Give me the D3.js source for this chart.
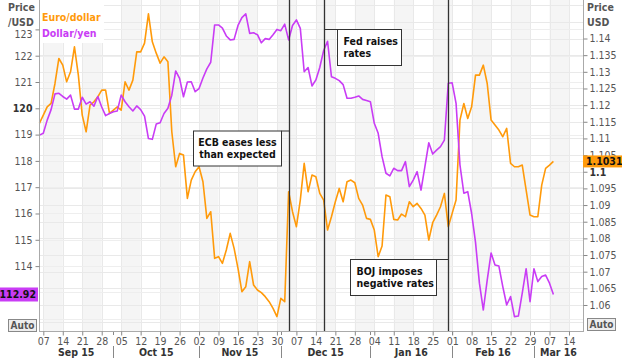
<!DOCTYPE html>
<html><head><meta charset="utf-8">
<script src="https://cdn.jsdelivr.net/npm/d3@7"></script>
<style>body{margin:0;background:#fff}svg{display:block}</style>
</head><body><svg id="c" width="622" height="358"></svg>
<script>
// ---- data ----
const startDate = "2015-09-04"; // first trading day shown; x axis counts weekdays
const axisEndDate = "2016-03-18";
const seriesNames = ["Euro/dollar", "Dollar/yen"];
const yenValues = [118.98,119.05,119.55,119.95,120.55,120.57,120.45,120.35,120.5,119.97,119.97,120.42,120.16,120.25,120.08,120.45,120.05,119.72,119.8,119.87,119.9,120.5,120.25,120.06,119.9,120.09,119.95,119.7,118.85,118.82,119.4,119.45,119.8,120.0,120.5,121.42,121.14,120.44,121.0,121.01,120.63,120.75,121.15,121.5,121.75,123.17,123.17,123.05,122.75,122.6,122.62,123.15,123.45,123.59,122.85,122.87,122.8,122.49,122.65,122.62,122.8,123.0,122.95,123.2,122.6,123.15,123.36,123.04,121.39,121.55,120.85,121.08,121.55,122.2,122.55,121.2,121.14,121.05,120.9,120.38,120.38,120.42,120.47,120.34,120.3,120.25,119.43,119.05,118.16,117.53,117.43,117.72,117.63,117.63,117.97,117.02,117.27,117.59,116.89,117.78,118.69,118.26,118.41,118.54,118.79,120.95,120.97,120.19,117.85,116.77,116.83,116.0,114.9,113.35,112.33,113.47,114.5,114.04,114.0,113.22,112.52,112.84,112.08,112.1,112.97,113.9,112.65,113.9,113.41,113.6,113.66,113.35,112.92];
const euroValues = [1.1145,1.1170,1.1195,1.1205,1.1265,1.1340,1.1320,1.1270,1.1300,1.1375,1.1290,1.1170,1.1120,1.1200,1.1210,1.1225,1.1245,1.1245,1.1175,1.1185,1.1195,1.1185,1.1270,1.1245,1.1275,1.1360,1.1360,1.1386,1.1474,1.1390,1.1356,1.1326,1.1345,1.1330,1.1120,1.1015,1.1055,1.1050,1.0920,1.0975,1.1000,1.1015,1.0970,1.0860,1.0880,1.0740,1.0745,1.0725,1.0765,1.0815,1.0770,1.0710,1.0640,1.0655,1.0730,1.0660,1.0645,1.0637,1.0625,1.0610,1.0590,1.0565,1.0620,1.0610,1.0940,1.0880,1.0835,1.0915,1.1025,1.0940,1.0990,1.0985,1.0935,1.0915,1.0825,1.0865,1.0910,1.0950,1.0910,1.0970,1.0975,1.0967,1.0920,1.0900,1.0860,1.0857,1.0825,1.0745,1.0777,1.0930,1.0925,1.0857,1.0855,1.0873,1.0865,1.0910,1.0895,1.0905,1.0890,1.0870,1.0795,1.0847,1.0870,1.0895,1.0935,1.0835,1.0875,1.0915,1.1155,1.1205,1.1160,1.1195,1.1290,1.1290,1.1320,1.1265,1.1155,1.1140,1.1125,1.1105,1.1130,1.1025,1.1015,1.1015,1.1020,1.0945,1.0870,1.0865,1.0865,1.0960,1.1010,1.1020,1.1031];
const leftTicks = [114,115,116,117,118,119,120,121,122,123];
const rightTicks = [1.06,1.065,1.07,1.075,1.08,1.085,1.09,1.095,1.1,1.105,1.11,1.115,1.12,1.125,1.13,1.135,1.14];
const monthLabels = ["Sep 15","Oct 15","Nov 15","Dec 15","Jan 16","Feb 16","Mar 16"];
const eventDates = ["2015-12-03","2015-12-16","2016-01-29"];
const eventTexts = [["ECB eases less","than expected"],["Fed raises","rates"],["BOJ imposes","negative rates"]];
const lastYen = "112.92", lastEuro = "1.1031";

// ---- trading-day calendar ----
const parse = d3.utcParse("%Y-%m-%d");
const days = d3.utcDays(parse(startDate), d3.utcDay.offset(parse(axisEndDate),1)).filter(d => d.getUTCDay() > 0 && d.getUTCDay() < 6);
const idxOf = d => days.findIndex(x => +x === +d);

const ORANGE = "#ff9a0a", PURPLE = "#c93cf5";
const L = 39, R = 583, T = 0, B = 331;
const x = d3.scaleLinear().domain([-0.104, 139.6]).range([L, R]);
const yL = d3.scaleLinear().domain([124.118, 111.532]).range([T, B]);
const yR = d3.scaleLinear().domain([1.15156, 1.05219]).range([T, B]);

const svg = d3.select("#c");
const FONT = "'DejaVu Sans Condensed','DejaVu Sans',sans-serif";

// background bands (alternate weeks)
const mondays = days.map((d,i)=>({d,i})).filter(o => o.d.getUTCDay() === 1);
const g0 = svg.append("g");
mondays.forEach((m,k) => {
  if (k % 2 === 0) {
    const x1 = Math.min(x(m.i + 5), R);
    g0.append("rect").attr("x", x(m.i)).attr("y", T).attr("width", x1 - x(m.i)).attr("height", B - T).attr("fill", "#f5f5f5");
  }
});
// grid
const grid = svg.append("g").attr("stroke", "#e9e9e9").attr("stroke-width", 1);
mondays.forEach(m => grid.append("line").attr("x1", Math.round(x(m.i))+0.5).attr("x2", Math.round(x(m.i))+0.5).attr("y1", T).attr("y2", B));
d3.range(1.055, 1.151, 0.005).forEach(v => { const yy = Math.round(yR(v))+0.5; grid.append("line").attr("x1", L).attr("x2", R).attr("y1", yy).attr("y2", yy); });
leftTicks.concat([113,112]).forEach(v => { const yy = Math.round(yL(v))+0.5; grid.append("line").attr("x1", L).attr("x2", R).attr("y1", yy).attr("y2", yy).attr("stroke", "#eeeeee"); });

// legend background
svg.append("rect").attr("x", L+1).attr("y", 0).attr("width", 64).attr("height", 43).attr("fill", "#fff");

// lines
const lineL = d3.line().x((d,i)=>x(i)).y(d=>yL(d));
const lineR = d3.line().x((d,i)=>x(i)).y(d=>yR(d));
svg.append("path").attr("d", lineR(euroValues)).attr("fill","none").attr("stroke",ORANGE).attr("stroke-width",1.6).attr("stroke-linejoin","round");
svg.append("path").attr("d", lineL(yenValues)).attr("fill","none").attr("stroke",PURPLE).attr("stroke-width",1.6).attr("stroke-linejoin","round");

// event lines and boxes
const boxes = [
  {x: 193.5, y: 131, w: 88, h: 35, anchor: "middle"},
  {x: 337.5, y: 29.5, w: 64, h: 36, anchor: "start"},
  {x: 350.5, y: 259.5, w: 86, h: 36, anchor: "start"}
];
eventDates.forEach((ds, k) => {
  const ex = Math.round(x(idxOf(parse(ds)))) + 0.5;
  svg.append("line").attr("x1", ex).attr("x2", ex).attr("y1", T).attr("y2", B).attr("stroke", "#333").attr("stroke-width", 1.3);
  const b = boxes[k];
  const right = b.x + b.w;
  svg.append("line").attr("x1", right < ex ? right : ex).attr("x2", right < ex ? ex : b.x).attr("y1", b.y).attr("y2", b.y).attr("stroke", "#333");
  svg.append("rect").attr("x", b.x).attr("y", b.y).attr("width", b.w).attr("height", b.h).attr("fill", "#fff").attr("stroke", "#333");
  eventTexts[k].forEach((t, j) => {
    svg.append("text").attr("x", b.anchor === "middle" ? b.x + b.w/2 : b.x + 6).attr("y", b.y + 15 + j*12)
      .attr("text-anchor", b.anchor).attr("font-family", FONT).attr("font-weight", "bold").attr("font-size", 10.5).attr("fill", "#111").text(t);
  });
});

// axes frame
svg.append("line").attr("x1", L+0.5).attr("x2", L+0.5).attr("y1", T).attr("y2", B).attr("stroke", "#aaa");
svg.append("line").attr("x1", R+0.5).attr("x2", R+0.5).attr("y1", T).attr("y2", B).attr("stroke", "#aaa");
svg.append("line").attr("x1", L).attr("x2", R+1).attr("y1", B+0.5).attr("y2", B+0.5).attr("stroke", "#aaa");

// left axis
const axL = svg.append("g").attr("transform", `translate(${L+0.5},0)`)
  .call(d3.axisLeft(yL).tickValues(leftTicks).tickSize(4).tickPadding(3).tickFormat(d3.format("d")));
axL.select(".domain").remove();
axL.selectAll("line").attr("stroke", "#888");
axL.selectAll("text").attr("font-family", FONT).attr("font-size", 10.5)
  .attr("font-weight", d => d === 120 ? "bold" : "normal").attr("fill", d => d === 120 ? "#333" : "#555")
  .attr("dy", d => d === 123 ? "0.75em" : "0.32em");

// right axis
const axR = svg.append("g").attr("transform", `translate(${R+0.5},0)`)
  .call(d3.axisRight(yR).tickValues(rightTicks).tickSize(4).tickPadding(2).tickFormat(v => String(+v.toFixed(3))));
axR.select(".domain").remove();
axR.selectAll("line").attr("stroke", "#888");
axR.selectAll("text").attr("font-family", FONT).attr("font-size", 10.5)
  .attr("font-weight", d => Math.abs(d-1.1) < 1e-9 ? "bold" : "normal").attr("fill", d => Math.abs(d-1.1) < 1e-9 ? "#333" : "#555");

// bottom axis
const monthStarts = days.map((d,i)=>({d,i})).filter((o,k,arr) => k > 0 && o.d.getUTCMonth() !== arr[k-1].d.getUTCMonth());
const axB = svg.append("g").attr("transform", `translate(0,${B+0.5})`)
  .call(d3.axisBottom(x).tickValues(mondays.map(m=>m.i).filter(i => x(i) < R)).tickSize(4).tickPadding(2).tickFormat(i => d3.utcFormat("%d")(days[i])));
axB.select(".domain").remove();
axB.selectAll("line").attr("stroke", "#888");
axB.selectAll("text").attr("font-family", FONT).attr("font-size", 10.5).attr("fill", "#555");
monthStarts.forEach(o => {
  const mx = Math.round(x(o.i)) + 0.5;
  svg.append("line").attr("x1", mx).attr("x2", mx).attr("y1", B+1).attr("y2", B+4).attr("stroke", "#888");
  svg.append("line").attr("x1", mx).attr("x2", mx).attr("y1", B+15).attr("y2", B+27).attr("stroke", "#888");
});
const bounds = [L].concat(monthStarts.map(o => x(o.i))).concat([R]);
monthLabels.forEach((m, k) => {
  svg.append("text").attr("x", (bounds[k] + bounds[k+1]) / 2).attr("y", B + 25).attr("text-anchor", "middle")
    .attr("font-family", FONT).attr("font-weight", "bold").attr("font-size", 10.5).attr("fill", "#333").text(m);
});

// axis titles
[["Price", 11], ["/USD", 25.5]].forEach(([t, yy]) => svg.append("text").attr("x", 8).attr("y", yy).attr("font-family", FONT).attr("font-weight","bold").attr("font-size", 10.5).attr("fill", "#555").text(t));
[["Price", 11], ["USD", 25.5]].forEach(([t, yy]) => svg.append("text").attr("x", 587).attr("y", yy).attr("font-family", FONT).attr("font-weight","bold").attr("font-size", 10.5).attr("fill", "#555").text(t));

// legend
svg.append("text").attr("x", 42).attr("y", 20.5).attr("font-family", FONT).attr("font-weight","bold").attr("font-size", 10.5).attr("fill", ORANGE).text(seriesNames[0]);
svg.append("text").attr("x", 42).attr("y", 37).attr("font-family", FONT).attr("font-weight","bold").attr("font-size", 10.5).attr("fill", PURPLE).text(seriesNames[1]);

// last value labels
const yLast = yL(yenValues[yenValues.length-1]);
svg.append("rect").attr("x", 0).attr("y", yLast - 7).attr("width", 38).attr("height", 14).attr("fill", PURPLE);
svg.append("text").attr("x", 36).attr("y", yLast + 4).attr("text-anchor", "end").attr("font-family", FONT).attr("font-weight","bold").attr("font-size", 10.5).attr("fill", "#111").text(lastYen);
const rLast = yR(euroValues[euroValues.length-1]);
svg.append("rect").attr("x", R).attr("y", rLast - 6).attr("width", 39).attr("height", 12).attr("fill", ORANGE);
svg.append("text").attr("x", R + 3).attr("y", rLast + 4).attr("font-family", FONT).attr("font-weight","bold").attr("font-size", 10.5).attr("fill", "#111").text(lastEuro);

// Auto buttons
[[8, 319], [587, 318]].forEach(([bx, by]) => {
  svg.append("rect").attr("x", bx + 0.5).attr("y", by + 0.5).attr("width", 28).attr("height", 12).attr("fill", "#eee").attr("stroke", "#888");
  svg.append("text").attr("x", bx + 14.5).attr("y", by + 10).attr("text-anchor", "middle").attr("font-family", FONT).attr("font-weight","bold").attr("font-size", 10).attr("fill", "#555").text("Auto");
});
</script></body></html>
